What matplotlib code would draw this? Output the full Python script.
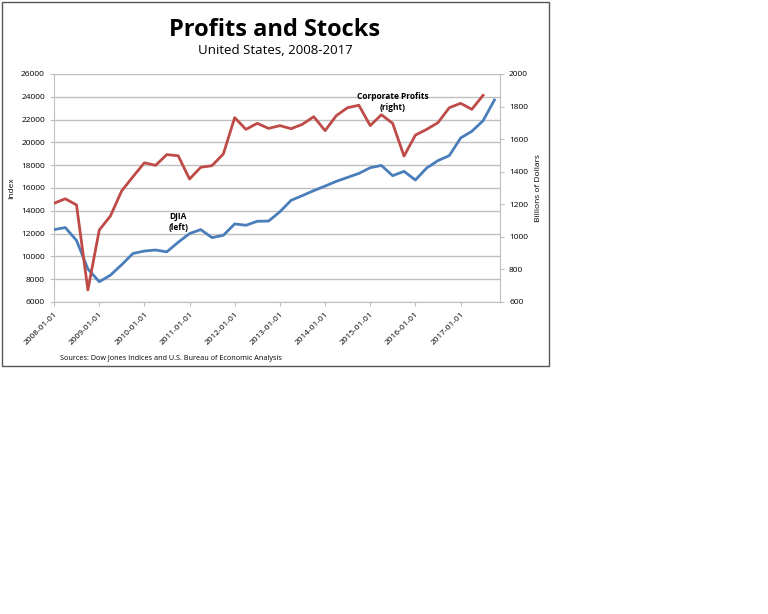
import numpy as np
import pandas as pd
import matplotlib
matplotlib.use("Agg")
import matplotlib.pyplot as plt
import matplotlib.dates as mdates
from matplotlib.patches import Rectangle

# quarterly data, 2008Q1 - 2017Q4
quarters = pd.date_range("2008-01-01", "2017-10-01", freq="QS")
djia = [12350, 12530, 11400, 8900, 7780, 8350, 9270, 10260,
        10470, 10560, 10400, 11240, 12000, 12350, 11650, 11850,
        12850, 12730, 13080, 13100, 13920, 14920, 15330, 15770,
        16170, 16580, 16930, 17280, 17780, 17980, 17080, 17460,
        16700, 17750, 18400, 18840, 20390, 20970, 21900, 23720]
# corporate profits, billions of dollars (last quarter missing)
profits = [1206, 1234, 1196, 674, 1042, 1128, 1282, 1370,
           1455, 1439, 1505, 1498, 1355, 1427, 1437, 1509,
           1732, 1660, 1697, 1666, 1683, 1664, 1691, 1738,
           1652, 1744, 1793, 1808, 1683, 1750, 1697, 1496,
           1625, 1660, 1701, 1793, 1820, 1783, 1869]
year_ticks = pd.date_range("2008-01-01", "2017-01-01", freq="YS")

blue = "#4A7EBB"
red = "#BE4B48"
grid_c = "#BFBFBF"

fig = plt.figure(figsize=(7.68, 6.14), dpi=100)
plt.rcParams['font.family'] = ['Open Sans', 'DejaVu Sans']

# outer frame of the chart
fig.patches.append(Rectangle((2 / 768, 1 - 366 / 614), 547 / 768, 364 / 614,
                             transform=fig.transFigure, fill=False,
                             edgecolor="#555555", linewidth=1.0))

ax = fig.add_axes([54 / 768, 1 - 302 / 614, 446 / 768, 228 / 614])
ax2 = ax.twinx()

ax.plot(quarters, djia, color=blue, lw=2.0, zorder=3)
ax2.plot(quarters[:len(profits)], profits, color=red, lw=2.0, zorder=3)

ax.set_ylim(6000, 26000)
ax.set_yticks(np.arange(6000, 26001, 2000))
ax2.set_ylim(600, 2000)
ax2.set_yticks(np.arange(600, 2001, 200))
ax.set_xlim(pd.Timestamp("2008-01-01"), pd.Timestamp("2017-11-15"))

ax.grid(axis="y", color=grid_c, lw=1.0)
ax.set_axisbelow(True)
ax.set_xticks(year_ticks)
ax.xaxis.set_major_formatter(mdates.DateFormatter("%Y-%m-%d"))
for lab in ax.get_xticklabels():
    lab.set_rotation(45)
    lab.set_ha("right")
    lab.set_rotation_mode("anchor")

for a in (ax, ax2):
    for s in a.spines.values():
        s.set_visible(False)
    a.tick_params(labelsize=6, length=3, color=grid_c, width=0.8)
ax.spines["left"].set_visible(True)
ax.spines["left"].set_color(grid_c)
ax.spines["bottom"].set_visible(True)
ax.spines["bottom"].set_color(grid_c)
ax2.spines["right"].set_visible(True)
ax2.spines["right"].set_color(grid_c)

ax.set_ylabel("Index", fontsize=6, labelpad=4)
ax2.set_ylabel("Billions of Dollars", fontsize=6, labelpad=5)

ax.text(pd.Timestamp("2010-10-01"), 13000, "DJIA\n(left)", fontsize=6,
        fontweight="bold", ha="center", va="center", linespacing=1.3)
ax2.text(pd.Timestamp("2015-07-01"), 1830, "Corporate Profits\n(right)",
         fontsize=6, fontweight="bold", ha="center", va="center",
         linespacing=1.3)

fig.text(275 / 768, 1 - 30 / 614, "Profits and Stocks", fontsize=17,
         fontweight="bold", ha="center", va="center")
fig.text(275 / 768, 1 - 50 / 614, "United States, 2008-2017", fontsize=9.5,
         ha="center", va="center")
fig.text(60 / 768, 1 - 358 / 614,
         "Sources: Dow Jones Indices and U.S. Bureau of Economic Analysis",
         fontsize=5.2, ha="left", va="center")

fig.savefig("out.png", dpi=100, facecolor="white")
